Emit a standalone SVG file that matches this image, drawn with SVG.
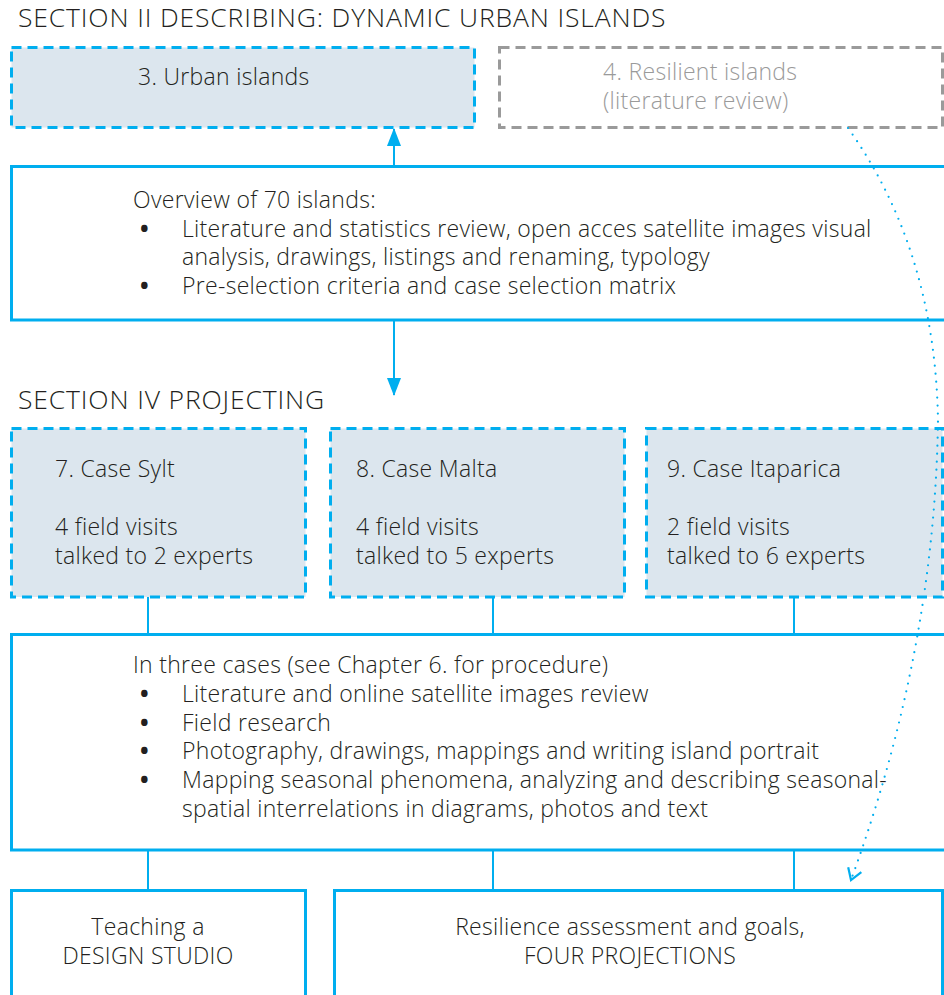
<svg xmlns="http://www.w3.org/2000/svg" width="944" height="995" viewBox="0 0 944 995">
<defs>
<style>
text{font-family:"Open Sans","Liberation Sans",sans-serif;font-weight:300;font-size:23px;letter-spacing:0.3px;fill:#231f20}
.h{font-size:26.5px;letter-spacing:0.85px}
.g{fill:#9a9a9a}
.b{font-weight:700;font-size:23px}
.dash{fill:#dce6ee;stroke:#00aeef;stroke-width:3;stroke-dasharray:10 6}
.dashg{fill:none;stroke:#9a9a9a;stroke-width:3;stroke-dasharray:10 6}
.solid{fill:#fff;stroke:#00aeef;stroke-width:3}
.c{stroke:#00aeef;stroke-width:2;fill:none}
.dot{stroke:#00aeef;stroke-width:2.2;fill:none;stroke-linecap:round;stroke-dasharray:0 8}
.m{text-anchor:middle}
</style>
<marker id="ah" markerWidth="18" markerHeight="14" refX="17" refY="7" orient="auto" markerUnits="userSpaceOnUse" viewBox="0 0 18 14"><path d="M0 0 L18 7 L0 14 Z" fill="#00aeef"/></marker>
<marker id="open" markerWidth="20" markerHeight="20" refX="16" refY="10" orient="auto" markerUnits="userSpaceOnUse" viewBox="0 0 20 20"><path d="M5 3 L16 10 L5 17" fill="none" stroke="#00aeef" stroke-width="2.2"/></marker>
</defs>
<rect width="944" height="995" fill="#fff"/>
<text class="h" x="18" y="27">SECTION II DESCRIBING: DYNAMIC URBAN ISLANDS</text>
<text class="h" x="18" y="409">SECTION IV PROJECTING</text>

<g id="connectors">
<line class="c" x1="394" y1="166" x2="394" y2="129" marker-end="url(#ah)"/>
<line class="c" x1="394" y1="320" x2="394" y2="395" marker-end="url(#ah)"/>
<line class="c" x1="148" y1="597" x2="148" y2="634"/>
<line class="c" x1="493" y1="597" x2="493" y2="634"/>
<line class="c" x1="794" y1="597" x2="794" y2="634"/>
<line class="c" x1="148" y1="850" x2="148" y2="890"/>
<line class="c" x1="493" y1="850" x2="493" y2="890"/>
<line class="c" x1="794" y1="850" x2="794" y2="890"/>
</g>

<g id="n3">
<rect class="dash" x="11.5" y="47.5" width="463" height="80"/>
<text x="138" y="85">3. Urban islands</text>
</g>
<g id="n4">
<rect class="dashg" x="499.5" y="47.5" width="443" height="80"/>
<text class="g" x="603" y="80">4. Resilient islands</text>
<text class="g" x="603" y="109">(literature review)</text>
</g>
<g id="overview">
<rect class="solid" x="11.5" y="166.5" width="940" height="153.5"/>
<text x="133" y="208">Overview of 70 islands:</text>
<text class="b" x="140" y="237">•</text>
<text x="182" y="237">Literature and statistics review, open acces satellite images visual</text>
<text x="182" y="265">analysis, drawings, listings and renaming, typology</text>
<text class="b" x="140" y="294">•</text>
<text x="182" y="294">Pre-selection criteria and case selection matrix</text>
</g>
<g id="n7">
<rect class="dash" x="11.5" y="428.5" width="294" height="168.5"/>
<text x="55" y="477">7. Case Sylt</text>
<text x="55" y="535">4 field visits</text>
<text x="55" y="564">talked to 2 experts</text>
</g>
<g id="n8">
<rect class="dash" x="330.5" y="428.5" width="294" height="168.5"/>
<text x="356" y="477">8. Case Malta</text>
<text x="356" y="535">4 field visits</text>
<text x="356" y="564">talked to 5 experts</text>
</g>
<g id="n9">
<rect class="dash" x="646.5" y="428.5" width="296" height="168.5"/>
<text x="667" y="477">9. Case Itaparica</text>
<text x="667" y="535">2 field visits</text>
<text x="667" y="564">talked to 6 experts</text>
</g>
<g id="cases">
<rect class="solid" x="11.5" y="634.5" width="940" height="215.5"/>
<text x="133" y="673">In three cases (see Chapter 6. for procedure)</text>
<text class="b" x="140" y="702">•</text>
<text x="182" y="702">Literature and online satellite images review</text>
<text class="b" x="140" y="731">•</text>
<text x="182" y="731">Field research</text>
<text class="b" x="140" y="759">•</text>
<text x="182" y="759">Photography, drawings, mappings and writing island portrait</text>
<text class="b" x="140" y="788">•</text>
<text x="182" y="788">Mapping seasonal phenomena, analyzing and describing seasonal-</text>
<text x="182" y="817">spatial interrelations in diagrams, photos and text</text>
</g>
<g id="studio">
<rect class="solid" x="11.5" y="890.5" width="294" height="120"/>
<text class="m" x="148" y="935">Teaching a</text>
<text class="m" x="148" y="964">DESIGN STUDIO</text>
</g>
<g id="projections">
<rect class="solid" x="334.5" y="890.5" width="608" height="120"/>
<text class="m" x="630" y="935">Resilience assessment and goals,</text>
<text class="m" x="630" y="964">FOUR PROJECTIONS</text>
</g>
<g id="dotted-connector">
<path class="dot" d="M848 128 Q935 250 938 420 Q935 650 851 880" marker-end="url(#open)"/>
</g>
</svg>
